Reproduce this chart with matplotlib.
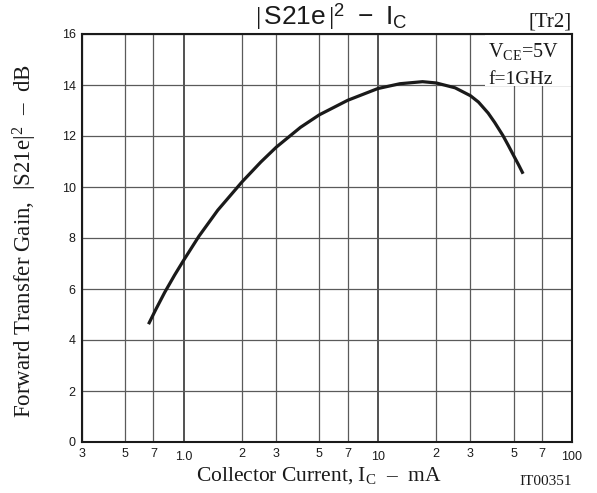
import matplotlib

matplotlib.use("Agg")
import matplotlib.pyplot as plt
from matplotlib.patches import Rectangle

# |S21e|^2 vs collector current, VCE = 5 V, f = 1 GHz
ic_ma = [0.66, 0.72, 0.8, 0.9, 1.0, 1.2, 1.5, 2.0, 2.5, 3.0, 4.0, 5.0, 7.0, 10, 13, 17, 20, 25,
         30, 33, 37, 40, 44, 47, 50, 53, 56]
gain_db = [4.62, 5.2, 5.87, 6.55, 7.12, 8.07, 9.09, 10.2, 10.98, 11.56, 12.34, 12.83, 13.4, 13.86,
           14.05, 14.13, 14.08, 13.89, 13.58, 13.33, 12.9, 12.53, 12.03, 11.63, 11.24, 10.88, 10.52]

x_major = [1, 10, 100]
x_major_labels = ["1.0", "10", "100"]
x_minor = [0.3, 0.5, 0.7, 2, 3, 5, 7, 20, 30, 50, 70]
x_minor_labels = ["3", "5", "7", "2", "3", "5", "7", "2", "3", "5", "7"]
y_ticks = [0, 2, 4, 6, 8, 10, 12, 14, 16]

SANS = "Liberation Sans"
SERIF = "Liberation Serif"

plt.rcParams["mathtext.fontset"] = "custom"
plt.rcParams["mathtext.rm"] = SERIF
plt.rcParams["mathtext.sf"] = SANS
plt.rcParams["mathtext.it"] = SERIF + ":italic"
plt.rcParams["font.family"] = SERIF

INK = "#1a1a1a"
W, H = 597, 493


def px(x, y):
    """Pixel position (from top-left) to figure fraction."""
    return x / W, 1 - y / H


def main() -> None:
    fig = plt.figure(figsize=(W / 100, H / 100), dpi=100)
    ax = fig.add_axes([82 / W, 1 - 442 / H, 490 / W, 408 / H])

    ax.set_xscale("log")
    ax.set_xlim(0.3, 100)
    ax.set_ylim(0, 16)

    ax.set_xticks(x_major)
    ax.set_xticklabels(x_major_labels)
    ax.set_xticks(x_minor, minor=True)
    ax.set_xticklabels(x_minor_labels, minor=True)
    ax.set_yticks(y_ticks)
    ax.set_yticklabels([str(v) for v in y_ticks])

    ax.tick_params(axis="x", which="major", length=0, pad=6.6, labelsize=9, colors=INK)
    ax.tick_params(axis="x", which="minor", length=0, pad=4.6, labelsize=9, colors=INK)
    ax.tick_params(axis="y", length=0, pad=4.5, labelsize=9, colors=INK)
    for lab in ax.get_xticklabels(which="both") + ax.get_yticklabels():
        lab.set_fontfamily(SANS)

    ax.grid(True, which="minor", axis="x", color="#5a5a5a", linewidth=0.9)
    ax.grid(True, which="major", axis="x", color="#222222", linewidth=1.1)
    ax.grid(True, which="major", axis="y", color="#5a5a5a", linewidth=0.9)
    ax.set_axisbelow(True)
    for spine in ax.spines.values():
        spine.set_linewidth(1.5)
        spine.set_color(INK)

    # blank patch behind the condition text
    ax.add_patch(Rectangle((0.822, 0.872), 0.178, 0.128, transform=ax.transAxes,
                           facecolor="white", edgecolor="none", zorder=1.5))

    ax.plot(ic_ma, gain_db, color=INK, linewidth=2.3, solid_capstyle="butt",
            solid_joinstyle="round", zorder=3)

    fig.text(*px(488, 56.7), r"$\mathrm{V_{CE}}$=5V", fontsize=14.5, color=INK, va="baseline")
    fig.text(*px(488, 83.5), "f=1GHz", fontsize=14, color=INK, va="baseline")

    fig.text(*px(331, 25),
             r"$|\,\mathsf{S21e}\,|^{\mathsf{2}}\ \ \mathsf{-}\ \ \mathsf{I}_{\mathsf{C}}$",
             ha="center", va="baseline", fontsize=19, color=INK)
    fig.text(*px(572, 27), "[Tr2]", ha="right", va="baseline", fontsize=15, color=INK)

    fig.text(*px(319, 481), r"Collector Current, $\mathrm{I_C}$  –  mA",
             ha="center", va="baseline", fontsize=15.5, color=INK)
    fig.text(*px(25, 241), r"Forward Transfer Gain,  $|\mathrm{S21e}|^{2}$  –  dB",
             ha="center", va="center", rotation=90, fontsize=16.5, color=INK)
    fig.text(*px(572, 485), "IT00351", ha="right", va="baseline", fontsize=11, color=INK)

    fig.savefig("out.png", dpi=100)
    plt.close(fig)


if __name__ == "__main__":
    main()
